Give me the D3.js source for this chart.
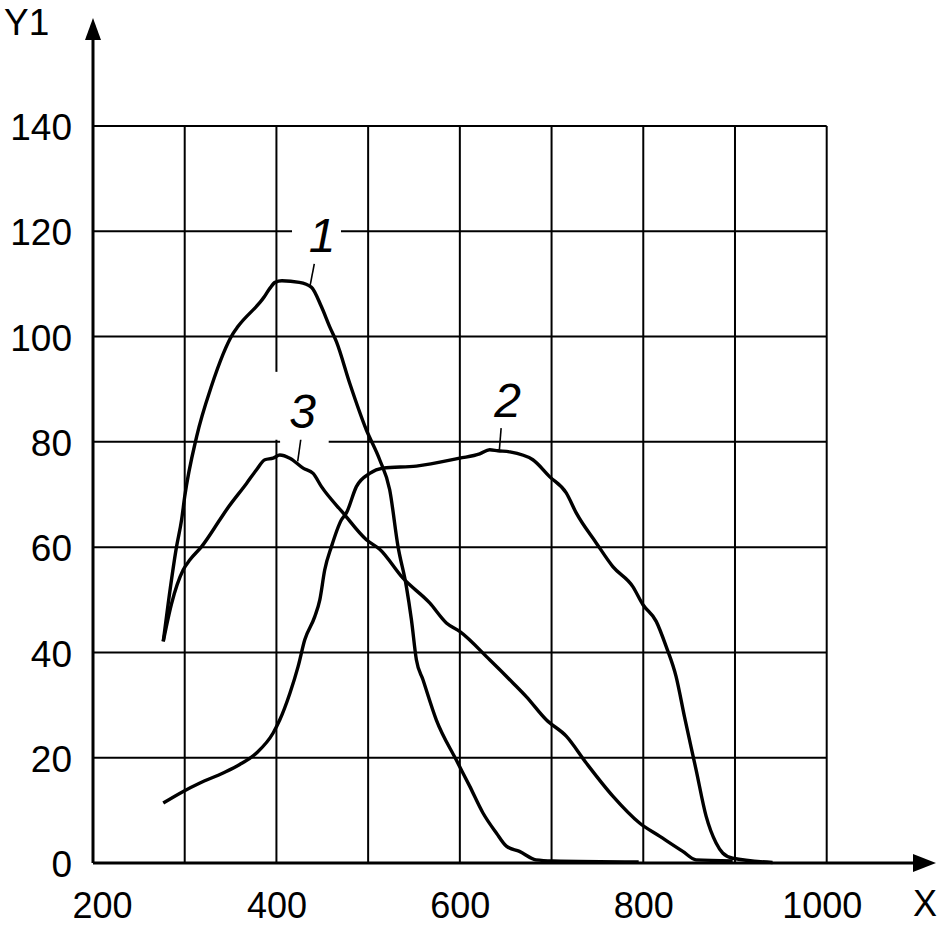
<!DOCTYPE html>
<html>
<head>
<meta charset="UTF-8">
<title>Y1 vs X</title>
<script src="https://d3js.org/d3.v7.min.js"></script>
<style>
  body { margin: 0; background: #fff; }
  text { font-family: "Liberation Sans", Arial, sans-serif; fill: #000; }
</style>
</head>
<body>
<script type="text/javascript">
// values
var xTicks = [200, 400, 600, 800, 1000];
var yTicks = [0, 20, 40, 60, 80, 100, 120, 140];
var xGrid = [300, 400, 500, 600, 700, 800, 900, 1000];
var yGrid = [20, 40, 60, 80, 100, 120, 140];

var curve1 = [[276.6,42.1],[282,49.3],[291,60],[296.6,65.2],[300,69.6],[313,81],[329,90.5],[352.8,100.6],
  [358,101.9],[387,107.6],[393,109.2],[398.5,110.3],[406,110.6],[425,110.3],[438,109.4],[449,105.7],
  [458,101.9],[465.5,99],[480,91.1],[498,82.3],[512.6,76.6],[523.5,70.9],[532.6,60.1],[541.7,52.5],
  [547.2,46.2],[552.6,38.6],[559.8,34.8],[574.3,27.2],[596,19.6],[610.7,14.6],[625.2,9.5],[639.8,5.7],
  [650.7,3.2],[665,2.2],[683,0.6],[701.5,0.4],[795,0.2]];

var curve2 = [[276.6,11.4],[298.4,13.6],[316.6,15.2],[341.9,17.1],[360,18.7],[378.3,20.9],[396.4,24.7],
  [403.7,27.2],[414.6,32.2],[423.6,37.3],[430.9,42.4],[441.8,46.8],[447.3,50],[452.7,55.7],[460,60.1],
  [470.9,65.2],[476.3,66.5],[487.2,71.5],[501.7,74],[516.2,75],[552.5,75.4],[599.8,76.9],[621.6,77.7],
  [632.5,78.5],[641.5,78.3],[654.2,78.1],[679.6,76.6],[697.8,73.4],[716,70.3],[726.9,66.5],[748.7,60.8],
  [766.8,56.3],[788.6,52.5],[799.5,49.1],[814.1,45.9],[825,41.1],[835.8,35.4],[844.9,27.8],[857.6,17.7],
  [868.5,8.9],[879.4,3.8],[886.6,1.9],[897.5,0.9],[941,0.1]];

var curve3 = [[276.6,42.1],[285.7,49.3],[298.4,55.7],[305.7,57.6],[318.4,60.1],[338.3,65.2],[345.6,67.1],
  [367.4,72.1],[378.3,74.7],[387.4,76.6],[396.4,76.9],[403.7,77.5],[414.6,76.9],[429.1,75],[440,74],
  [449.1,71.5],[472.7,66.5],[498.1,61.4],[512.6,59.6],[538,54.1],[567.1,49.4],[585.3,45.6],[599.8,44],
  [632.5,38.6],[657.9,34.2],[672.4,31.6],[694.2,27.2],[716,24.1],[737.8,19],[766.8,12.7],[795.9,7.6],
  [817.7,5.1],[843.1,2.2],[857.6,0.6],[897.5,0.4]];

// curve labels: text anchor point and leader line ends (data units)
var labelNames = ["1", "2", "3"];
var labelAt = [[449.7,116.1],[652,84.8],[428.5,82.6]];
var leaders = [[[441.3,113.8],[436.6,109.6]], [[645,82.6],[643.1,78.5]], [[426.5,80.4],[423.2,76.3]]];

// gridline breaks behind the labels
var hGaps = [[120, 417, 470.4], [80, 404, 457]];
var vGaps = [[400, 80.4, 93.3]];

var width = 943, height = 925;
var x = d3.scaleLinear().domain([200, 1000]).range([93, 826.7]);
var y = d3.scaleLinear().domain([0, 140]).range([863, 126]);

var svg = d3.select("body").append("svg")
    .attr("width", width)
    .attr("height", height);

function splitLine(v, from, to, gaps) {
  // returns [a,b] pieces of the line at v with gaps cut out
  var pieces = [[from, to]];
  gaps.forEach(function(g) {
    if (g[0] !== v) return;
    var out = [];
    pieces.forEach(function(p) {
      if (g[2] <= p[0] || g[1] >= p[1]) { out.push(p); return; }
      if (g[1] > p[0]) out.push([p[0], g[1]]);
      if (g[2] < p[1]) out.push([g[2], p[1]]);
    });
    pieces = out;
  });
  return pieces;
}

var grid = svg.append("g").attr("stroke", "#000").attr("stroke-width", 2);
yGrid.forEach(function(v) {
  splitLine(v, 200, 1000, hGaps).forEach(function(p) {
    grid.append("line").attr("x1", x(p[0])).attr("x2", x(p[1]))
      .attr("y1", y(v)).attr("y2", y(v));
  });
});
xGrid.forEach(function(v) {
  splitLine(v, 0, 140, vGaps).forEach(function(p) {
    grid.append("line").attr("x1", x(v)).attr("x2", x(v))
      .attr("y1", y(p[0])).attr("y2", y(p[1]));
  });
});

// axes with arrows
var x0 = x.range()[0], y0 = y.range()[0];
svg.append("line").attr("x1", x0).attr("x2", 916).attr("y1", y0).attr("y2", y0)
  .attr("stroke", "#000").attr("stroke-width", 3);
svg.append("path").attr("d", "M936," + y0 + "L913," + (y0 - 9) + "L913," + (y0 + 9) + "Z");
svg.append("line").attr("x1", x0).attr("x2", x0).attr("y1", y0).attr("y2", 36)
  .attr("stroke", "#000").attr("stroke-width", 3);
svg.append("path").attr("d", "M" + x0 + ",18L" + (x0 - 8) + ",40L" + (x0 + 8) + ",40Z");

var xAxis = svg.append("g")
    .attr("transform", "translate(0," + y0 + ")")
    .call(d3.axisBottom(x).tickValues(xTicks).tickFormat(d3.format("d")).tickSize(0).tickPadding(29));
xAxis.select(".domain").remove();
xAxis.selectAll("text").style("font-size", "36px")
    .attr("dx", function(d) { return d === 200 ? 9 : (d === 1000 ? -5 : 0); });

var yAxis = svg.append("g")
    .attr("transform", "translate(" + x0 + ",0)")
    .call(d3.axisLeft(y).tickValues(yTicks).tickSize(0).tickPadding(21));
yAxis.select(".domain").remove();
yAxis.selectAll("text").style("font-size", "37px").attr("dy", "0.37em");

svg.append("text").attr("x", 4).attr("y", 35).style("font-size", "37px").text("Y1");
svg.append("text").attr("x", 913).attr("y", 916).style("font-size", "36px").text("X");

// curves
var line = d3.line()
    .x(function(d) { return x(d[0]); })
    .y(function(d) { return y(d[1]); })
    .curve(d3.curveMonotoneX);

svg.selectAll("path.curve")
    .data([curve1, curve2, curve3])
    .enter()
    .append("path")
    .attr("class", "curve")
    .attr("d", line)
    .attr("fill", "none")
    .attr("stroke", "#000")
    .attr("stroke-width", 3.4)
    .attr("stroke-linejoin", "round");

svg.selectAll("line.leader")
    .data(leaders)
    .enter()
    .append("line")
    .attr("class", "leader")
    .attr("x1", function(d) { return x(d[0][0]); })
    .attr("y1", function(d) { return y(d[0][1]); })
    .attr("x2", function(d) { return x(d[1][0]); })
    .attr("y2", function(d) { return y(d[1][1]); })
    .attr("stroke", "#000")
    .attr("stroke-width", 1.6);

svg.selectAll("text.curve-label")
    .data(labelNames)
    .enter()
    .append("text")
    .attr("class", "curve-label")
    .attr("x", function(d, i) { return x(labelAt[i][0]); })
    .attr("y", function(d, i) { return y(labelAt[i][1]); })
    .attr("text-anchor", "middle")
    .style("font-size", "48px")
    .style("font-style", "italic")
    .text(function(d) { return d; });
</script>
</body>
</html>
